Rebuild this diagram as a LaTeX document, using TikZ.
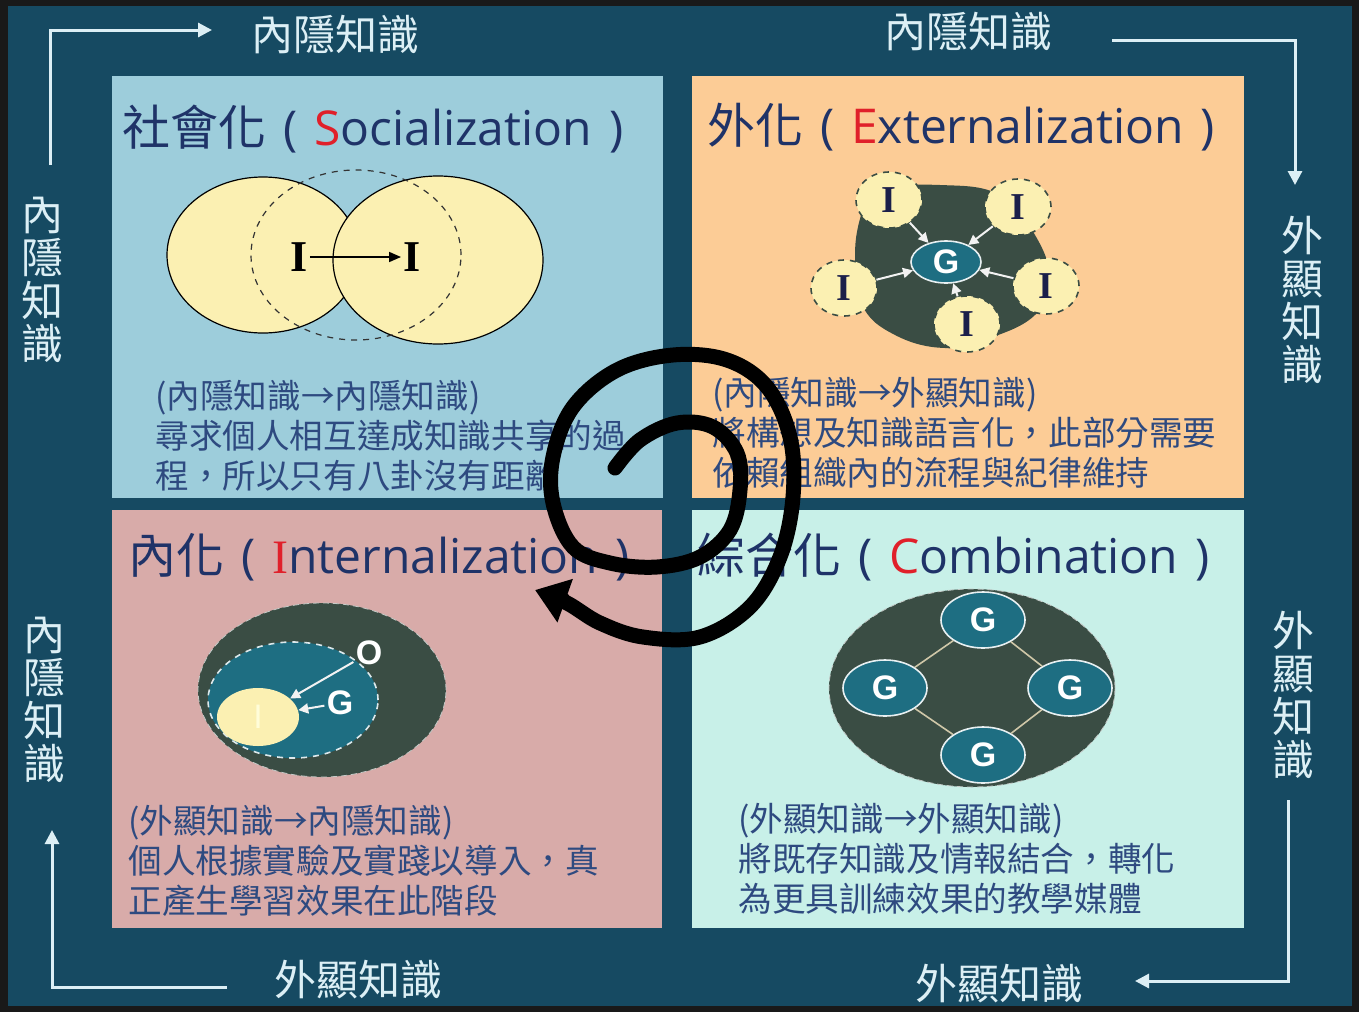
\documentclass[tikz,border=0pt]{standalone}
\usepackage{fontspec}
\setmainfont{Noto Sans CJK TC}
\newfontfamily\latin{Open Sans}
\newfontfamily\serifI{Liberation Serif}
\newfontfamily\sansG{Liberation Sans}
\usetikzlibrary{shapes.geometric,arrows.meta}

\definecolor{framebg}{HTML}{164A62}
\definecolor{socbg}{HTML}{9DCDDB}
\definecolor{extbg}{HTML}{FCCC96}
\definecolor{intbg}{HTML}{D8ABA9}
\definecolor{combg}{HTML}{C8F0E8}
\definecolor{yelfill}{HTML}{FBF0B2}
\definecolor{blobgrn}{HTML}{3A4D44}
\definecolor{gteal}{HTML}{1E6E82}
\definecolor{titlenavy}{HTML}{1F3368}
\definecolor{descblue}{HTML}{2E4A80}
\definecolor{keyred}{HTML}{E0202A}
\definecolor{axiswhite}{HTML}{DCEFF5}
\definecolor{linkbeige}{HTML}{CFC7A8}
\definecolor{inavy}{HTML}{1B1F4A}

\newcommand{\tgap}{\hspace{0.35em}}

\begin{document}
\begin{tikzpicture}[
        x=0.5pt, y=-0.5pt,
        ttl/.style={anchor=base west,inner sep=0pt,text=titlenavy,font=\fontsize{24}{28}\selectfont},
        desc/.style={anchor=north west,inner sep=0pt,align=left,text=descblue,font=\fontsize{16.8}{20}\selectfont},
        axtext/.style={inner sep=0pt,align=center,text=axiswhite,font=\fontsize{21}{21.5}\selectfont},
        axline/.style={draw=axiswhite,line width=1.5pt,-{Triangle[length=7pt,width=7pt]}},
        yel/.style={ellipse,fill=yelfill,draw=black,line width=0.6pt,inner sep=0pt},
        dashring/.style={ellipse,draw=black!80,dashed,line width=0.6pt,inner sep=0pt},
        ichar/.style={inner sep=1pt,text=black,font=\serifI\bfseries\fontsize{22}{22}\selectfont},
        ibub/.style={ellipse,fill=yelfill,draw=blobgrn,dashed,line width=0.8pt,inner sep=0pt,
            minimum width=33pt,minimum height=28pt,text=inavy,font=\serifI\bfseries\fontsize{19}{19}\selectfont},
        blob/.style={ellipse,fill=blobgrn,draw=white!70!blobgrn,densely dashed,line width=0.4pt,inner sep=0pt},
        gnode/.style={ellipse,fill=gteal,draw=white!90!gteal,line width=0.8pt,inner sep=0pt,
            text=white,font=\sansG\bfseries\fontsize{17}{17}\selectfont},
        gring/.style={ellipse,fill=gteal,draw=white!85!gteal,dashed,line width=0.8pt,inner sep=0pt},
        wlabel/.style={inner sep=1pt,text=white,font=\sansG\bfseries\fontsize{17}{17}\selectfont},
        warrow/.style={draw=white!90!gray,line width=1pt,-{Triangle[length=5pt,width=5pt]}},
        blk/.style={draw=black,line width=0.8pt,-{Triangle[length=6pt,width=5pt]}},
        link/.style={draw=linkbeige,line width=0.8pt},
        spiral/.style={draw=black,line width=7.5pt,line cap=round,-{Triangle[length=16pt,width=22pt]}}
    ]
        \useasboundingbox (0,0) rectangle (1359,1012);

        % Background and the four quadrants
        \fill[black!90] (0,0) rectangle (1359,1012);
        \fill[framebg] (8,6) rectangle (1352,1006);
        \fill[socbg] (112,76) rectangle (663,498);
        \fill[extbg] (692,76) rectangle (1244,498);
        \fill[intbg] (112,510) rectangle (662,928);
        \fill[combg] (692,510) rectangle (1244,928);

        % Axis arrows round the quadrants
        \coordinate (tlA) at (50,165); \coordinate (tlB) at (50,30); \coordinate (tlC) at (212,30);
        \coordinate (trA) at (1112,40); \coordinate (trB) at (1295,40); \coordinate (trC) at (1295,185);
        \coordinate (brA) at (1288,800); \coordinate (brB) at (1288,981); \coordinate (brC) at (1135,981);
        \coordinate (blA) at (227,987); \coordinate (blB) at (52,987); \coordinate (blC) at (52,830);
        \draw[axline] (tlA) -- (tlB) -- (tlC);
        \draw[axline] (trA) -- (trB) -- (trC);
        \draw[axline] (brA) -- (brB) -- (brC);
        \draw[axline] (blA) -- (blB) -- (blC);

        % Axis labels
        \node[axtext] (axTL) at (335,35) {內隱知識};
        \node[axtext] (axTR) at (968,32) {內隱知識};
        \node[axtext] (axBL) at (358,980) {外顯知識};
        \node[axtext] (axBR) at (999,984) {外顯知識};
        \node[axtext] (axL1) at (42,280) {內\\隱\\知\\識};
        \node[axtext] (axL2) at (45,700) {內\\隱\\知\\識};
        \node[axtext] (axR1) at (1302,300) {外\\顯\\知\\識};
        \node[axtext] (axR2) at (1293,695) {外\\顯\\知\\識};

        % Titles
        \node[ttl] (tSoc) at (122,145) {社會化\tgap{\latin(\tgap{\color{keyred}S}ocialization\tgap)}};
        \node[ttl] (tExt) at (707,143) {外化\tgap{\latin(\tgap{\color{keyred}E}xternalization\tgap)}};
        \node[ttl] (tInt) at (128,573) {內化\tgap{\latin(\tgap{\serifI\color{keyred}I}nternalization\tgap)}};
        \node[ttl] (tCom) at (697,573) {綜合化\tgap{\latin(\tgap{\color{keyred}C}ombination\tgap)}};

        % Socialization
        \node[yel,minimum width=96pt,minimum height=78pt] (socL) at (263,255) {};
        \node[yel,minimum width=105pt,minimum height=84pt] (socR) at (438,260) {};
        \node[dashring,minimum width=105pt,minimum height=85pt] (socD) at (356,255) {};
        \node[ichar] (socI1) at (299,257) {I};
        \node[ichar] (socI2) at (412,257) {I};
        \draw[blk] (socI1) -- (socI2);

        % Externalization
        \fill[blobgrn] plot[smooth cycle,tension=0.7] coordinates {(875,190) (940,185) (1000,195) (1035,235)
            (1050,280) (1035,315) (990,338) (945,348) (895,335) (862,305) (855,255) (862,212)};
        \node[gnode,minimum width=35pt,minimum height=21pt] (extG) at (946,262) {G};
        \node[ibub] (extI1) at (889,200) {I};
        \node[ibub] (extI2) at (1018,207) {I};
        \node[ibub] (extI3) at (844,288) {I};
        \node[ibub] (extI4) at (1046,286) {I};
        \node[ibub] (extI5) at (967,324) {I};
        \foreach \n in {1,...,5}
            \draw[warrow] (extI\n) -- (extG);

        % Internalization
        \node[blob,minimum width=124pt,minimum height=87pt] (intO) at (322,690) {};
        \node[gring,minimum width=85pt,minimum height=58pt] (intG) at (293,700) {};
        \node[ellipse,fill=yelfill,inner sep=0pt,minimum width=41pt,minimum height=29pt,
            text=white!85!yellow,font=\sansG\fontsize{17}{17}\selectfont] (intI) at (258,717) {I};
        \node[wlabel] (intOl) at (369,653) {O};
        \node[wlabel] (intGl) at (340,703) {G};
        \draw[warrow] (intOl) -- (intI);
        \draw[warrow] (intGl) -- (intI);

        % Combination
        \node[blob,minimum width=143pt,minimum height=99pt] (comO) at (972,688) {};
        \node[gnode,minimum width=42pt,minimum height=28pt] (comG1) at (983,620) {G};
        \node[gnode,minimum width=42pt,minimum height=28pt] (comG2) at (885,688) {G};
        \node[gnode,minimum width=42pt,minimum height=28pt] (comG3) at (1070,688) {G};
        \node[gnode,minimum width=42pt,minimum height=28pt] (comG4) at (983,755) {G};
        \draw[link] (comG1) -- (comG2);
        \draw[link] (comG1) -- (comG3);
        \draw[link] (comG2) -- (comG4);
        \draw[link] (comG3) -- (comG4);

        % Descriptions
        \node[desc] (dSoc) at (155,380) {(內隱知識→內隱知識)\\尋求個人相互達成知識共享的過\\程，所以只有八卦沒有距離};
        \node[desc] (dExt) at (712,377) {(內隱知識→外顯知識)\\將構想及知識語言化，此部分需要\\依賴組織內的流程與紀律維持};
        \node[desc] (dInt) at (128,805) {(外顯知識→內隱知識)\\個人根據實驗及實踐以導入，真\\正產生學習效果在此階段};
        \node[desc] (dCom) at (738,803) {(外顯知識→外顯知識)\\將既存知識及情報結合，轉化\\為更具訓練效果的教學媒體};

        % The spiral drawn over the middle
        \draw[spiral] plot[smooth,tension=0.6] coordinates {(615,468) (640,440) (677,423) (713,427)
            (737,453) (740,490) (730,530) (700,557) (657,567) (610,563) (573,547) (553,503) (553,457)
            (573,407) (617,370) (673,355) (727,360) (767,387) (790,437) (793,497) (780,557) (750,607)
            (700,637) (643,637) (600,623) (567,603) (535,590)};
    \end{tikzpicture}
\end{document}
